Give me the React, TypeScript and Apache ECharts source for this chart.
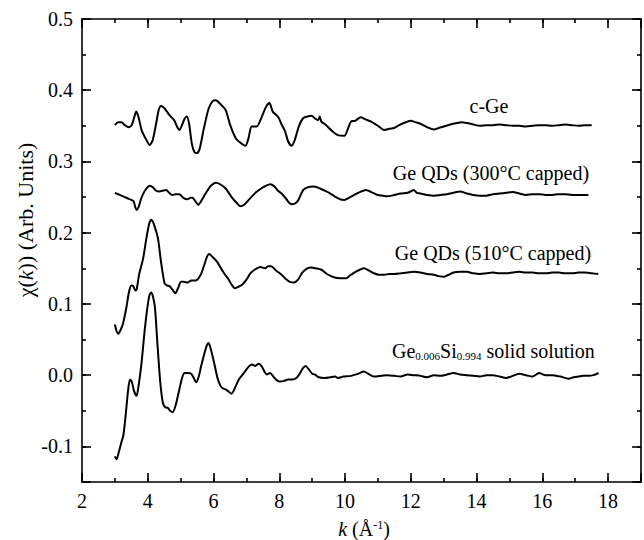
import React, { useEffect, useRef } from "react";
import * as echarts from "echarts";

// k (1/Å) , chi(k) pairs
const cGe: [number, number][] = [
  [3.0, 0.351], [3.1, 0.355], [3.2, 0.355], [3.3, 0.351], [3.42, 0.348], [3.52, 0.352], [3.6, 0.364], [3.65, 0.37],
  [3.72, 0.362], [3.82, 0.343], [3.95, 0.331], [4.06, 0.323], [4.15, 0.33], [4.25, 0.352], [4.33, 0.372], [4.4, 0.378],
  [4.5, 0.375], [4.66, 0.365], [4.8, 0.358], [4.9, 0.348], [4.96, 0.344], [5.05, 0.352], [5.12, 0.36], [5.19, 0.363],
  [5.26, 0.352], [5.34, 0.325], [5.42, 0.313], [5.5, 0.312], [5.58, 0.318], [5.7, 0.345], [5.85, 0.374], [5.98, 0.385],
  [6.07, 0.386], [6.2, 0.381], [6.37, 0.372], [6.5, 0.352], [6.67, 0.333], [6.8, 0.327], [6.97, 0.322], [7.06, 0.332],
  [7.16, 0.349], [7.31, 0.349], [7.47, 0.363], [7.6, 0.377], [7.7, 0.382], [7.8, 0.37], [7.97, 0.362], [8.07, 0.352],
  [8.17, 0.343], [8.27, 0.328], [8.37, 0.322], [8.47, 0.33], [8.6, 0.35], [8.73, 0.361], [8.85, 0.363], [8.98, 0.364],
  [9.1, 0.36], [9.18, 0.358], [9.23, 0.363], [9.28, 0.356], [9.4, 0.352], [9.58, 0.344], [9.78, 0.337], [9.98, 0.336],
  [10.08, 0.345], [10.18, 0.356], [10.3, 0.357], [10.48, 0.362], [10.62, 0.359], [10.79, 0.356], [11.0, 0.35],
  [11.19, 0.344], [11.35, 0.346], [11.49, 0.347], [11.65, 0.351], [11.79, 0.354], [11.99, 0.357], [12.15, 0.355],
  [12.29, 0.353], [12.5, 0.348], [12.7, 0.345], [12.85, 0.347], [13.0, 0.349], [13.2, 0.352], [13.4, 0.354],
  [13.55, 0.355], [13.7, 0.354], [13.9, 0.352], [14.1, 0.35], [14.3, 0.351], [14.5, 0.351], [14.7, 0.352],
  [14.9, 0.351], [15.1, 0.35], [15.3, 0.35], [15.5, 0.349], [15.7, 0.35], [15.9, 0.351], [16.1, 0.351], [16.3, 0.35],
  [16.5, 0.351], [16.7, 0.352], [16.9, 0.351], [17.1, 0.35], [17.3, 0.351], [17.5, 0.351],
];

const qd300: [number, number][] = [
  [3.0, 0.256], [3.1, 0.254], [3.2, 0.252], [3.3, 0.25], [3.4, 0.248], [3.5, 0.246], [3.57, 0.244], [3.62, 0.236],
  [3.66, 0.232], [3.72, 0.236], [3.8, 0.248], [3.9, 0.258], [3.98, 0.263], [4.06, 0.266], [4.15, 0.264], [4.25, 0.259],
  [4.36, 0.258], [4.45, 0.259], [4.56, 0.26], [4.65, 0.256], [4.75, 0.253], [4.85, 0.254], [4.96, 0.254], [5.08, 0.249],
  [5.21, 0.247], [5.3, 0.249], [5.36, 0.249], [5.45, 0.244], [5.54, 0.239], [5.62, 0.244], [5.76, 0.255], [5.9, 0.265],
  [6.0, 0.269], [6.08, 0.27], [6.2, 0.268], [6.37, 0.262], [6.55, 0.25], [6.7, 0.242], [6.82, 0.237], [6.95, 0.24],
  [7.05, 0.245], [7.17, 0.251], [7.3, 0.257], [7.45, 0.262], [7.6, 0.266], [7.72, 0.268], [7.85, 0.265], [7.96, 0.259],
  [8.07, 0.255], [8.2, 0.248], [8.3, 0.242], [8.37, 0.24], [8.48, 0.241], [8.58, 0.246], [8.73, 0.26], [8.88, 0.264],
  [9.03, 0.265], [9.2, 0.263], [9.38, 0.259], [9.52, 0.256], [9.68, 0.251], [9.85, 0.247], [9.98, 0.246],
  [10.12, 0.249], [10.28, 0.253], [10.45, 0.257], [10.63, 0.26], [10.8, 0.257], [10.99, 0.253], [11.15, 0.252],
  [11.29, 0.251], [11.5, 0.253], [11.69, 0.255], [11.9, 0.256], [12.0, 0.258], [12.09, 0.26], [12.18, 0.256],
  [12.29, 0.255], [12.5, 0.253], [12.7, 0.252], [12.9, 0.253], [13.09, 0.254], [13.3, 0.256], [13.49, 0.258],
  [13.7, 0.255], [13.9, 0.253], [14.1, 0.252], [14.3, 0.252], [14.5, 0.254], [14.7, 0.255], [14.9, 0.256],
  [15.1, 0.257], [15.3, 0.255], [15.5, 0.253], [15.7, 0.254], [15.9, 0.254], [16.1, 0.253], [16.3, 0.253],
  [16.5, 0.254], [16.7, 0.254], [16.9, 0.253], [17.1, 0.253], [17.4, 0.253],
];

const qd510: [number, number][] = [
  [3.0, 0.071], [3.05, 0.062], [3.1, 0.058], [3.17, 0.063], [3.25, 0.073], [3.35, 0.095], [3.43, 0.117],
  [3.5, 0.126], [3.56, 0.125], [3.62, 0.119], [3.66, 0.12], [3.74, 0.142], [3.86, 0.164], [3.95, 0.19],
  [4.04, 0.212], [4.11, 0.218], [4.2, 0.21], [4.31, 0.192], [4.4, 0.16], [4.51, 0.129], [4.58, 0.126],
  [4.66, 0.125], [4.75, 0.12], [4.84, 0.115], [4.92, 0.122], [5.01, 0.131], [5.1, 0.131], [5.21, 0.13],
  [5.32, 0.133], [5.46, 0.133], [5.61, 0.141], [5.72, 0.155], [5.8, 0.166], [5.86, 0.17], [5.95, 0.167],
  [6.11, 0.159], [6.2, 0.152], [6.32, 0.143], [6.45, 0.135], [6.55, 0.127], [6.65, 0.122], [6.75, 0.124],
  [6.87, 0.127], [7.0, 0.134], [7.12, 0.143], [7.25, 0.148], [7.42, 0.152], [7.57, 0.15], [7.66, 0.153],
  [7.75, 0.153], [7.9, 0.147], [8.07, 0.141], [8.2, 0.135], [8.32, 0.131], [8.45, 0.13], [8.57, 0.134],
  [8.7, 0.144], [8.85, 0.15], [8.98, 0.151], [9.1, 0.15], [9.28, 0.148], [9.45, 0.142], [9.68, 0.137],
  [9.85, 0.136], [10.03, 0.136], [10.15, 0.14], [10.28, 0.144], [10.45, 0.148], [10.58, 0.15], [10.72, 0.147],
  [10.88, 0.143], [11.03, 0.141], [11.19, 0.141], [11.35, 0.142], [11.49, 0.142], [11.7, 0.143], [11.89, 0.144],
  [12.1, 0.145], [12.29, 0.144], [12.5, 0.142], [12.7, 0.141], [12.85, 0.139], [13.0, 0.138], [13.15, 0.141],
  [13.3, 0.144], [13.5, 0.145], [13.7, 0.145], [13.9, 0.143], [14.1, 0.142], [14.3, 0.143], [14.5, 0.144],
  [14.7, 0.143], [14.9, 0.143], [15.1, 0.144], [15.3, 0.145], [15.5, 0.144], [15.7, 0.144], [15.9, 0.143],
  [16.1, 0.143], [16.3, 0.144], [16.5, 0.144], [16.7, 0.143], [16.9, 0.143], [17.1, 0.144], [17.3, 0.144],
  [17.5, 0.143], [17.7, 0.142],
];

const geSi: [number, number][] = [
  [3.0, -0.114], [3.05, -0.118], [3.12, -0.108], [3.2, -0.094], [3.26, -0.084], [3.33, -0.055], [3.4, -0.022],
  [3.46, -0.006], [3.52, -0.01], [3.58, -0.022], [3.66, -0.029], [3.72, -0.015], [3.81, 0.017], [3.9, 0.06],
  [3.98, 0.092], [4.05, 0.112], [4.1, 0.116], [4.16, 0.11], [4.22, 0.094], [4.3, 0.04], [4.38, -0.01],
  [4.46, -0.039], [4.53, -0.045], [4.61, -0.046], [4.68, -0.05], [4.76, -0.052], [4.85, -0.042], [4.96, -0.02],
  [5.05, -0.003], [5.12, 0.003], [5.22, 0.003], [5.32, 0.002], [5.4, -0.004], [5.47, -0.01], [5.55, -0.002],
  [5.62, 0.012], [5.72, 0.03], [5.8, 0.042], [5.85, 0.045], [5.92, 0.036], [6.02, 0.017], [6.12, -0.004],
  [6.2, -0.014], [6.27, -0.018], [6.4, -0.021], [6.55, -0.026], [6.65, -0.018], [6.77, -0.006], [6.87, 0.0],
  [6.97, 0.006], [7.07, 0.012], [7.17, 0.015], [7.27, 0.013], [7.37, 0.016], [7.47, 0.012], [7.56, 0.004],
  [7.62, 0.001], [7.72, 0.003], [7.82, -0.002], [7.92, -0.007], [8.02, -0.009], [8.15, -0.008], [8.27, -0.006],
  [8.4, -0.006], [8.52, -0.004], [8.62, 0.002], [8.72, 0.01], [8.8, 0.013], [8.9, 0.008], [9.0, 0.002],
  [9.08, 0.001], [9.2, -0.003], [9.38, -0.004], [9.55, -0.003], [9.7, -0.002], [9.78, -0.004], [9.95, -0.002],
  [10.18, -0.001], [10.4, 0.002], [10.58, 0.005], [10.7, 0.002], [10.88, -0.002], [11.1, -0.001], [11.29, 0.0],
  [11.5, -0.001], [11.69, -0.002], [11.9, 0.001], [12.09, 0.0], [12.3, -0.001], [12.49, -0.003], [12.7, 0.0],
  [12.9, -0.001], [13.1, 0.001], [13.3, 0.003], [13.5, 0.001], [13.7, 0.0], [13.9, -0.001], [14.1, -0.002],
  [14.3, 0.0], [14.5, 0.0], [14.7, -0.002], [14.9, -0.004], [15.1, -0.001], [15.3, 0.002], [15.5, 0.0],
  [15.7, -0.002], [15.9, 0.003], [16.1, 0.0], [16.3, 0.0], [16.55, -0.002], [16.8, -0.005], [16.95, -0.003],
  [17.1, -0.002], [17.25, -0.001], [17.41, -0.001], [17.55, 0.0], [17.71, 0.003],
];

const seriesList = [
  { name: "c-Ge", data: cGe },
  { name: "Ge QDs (300°C capped)", data: qd300 },
  { name: "Ge QDs (510°C capped)", data: qd510 },
  { name: "Ge0.006Si0.994 solid solution", data: geSi },
];

const X_MIN = 2;
const X_MAX = 19;
const Y_MIN = -0.15;
const Y_MAX = 0.5;

const FONT = "Liberation Serif";
const BLACK = "#000";

export default function App() {
  const ref = useRef<HTMLDivElement>(null);

  useEffect(() => {
    if (!ref.current) return;
    const chart = echarts.init(ref.current, undefined, { renderer: "svg" });

    const lineStyle = { color: BLACK, width: 1.6 };
    const baseX = (position: "top" | "bottom", interval: number, tickLen: number, showLine: boolean, showLabel: boolean) => ({
      type: "value",
      position,
      min: X_MIN,
      max: X_MAX,
      interval,
      axisLine: { show: showLine, onZero: false, lineStyle },
      axisTick: { show: true, inside: true, length: tickLen, lineStyle },
      axisLabel: {
        show: showLabel,
        color: BLACK,
        fontFamily: FONT,
        fontSize: 20,
        margin: 9,
        formatter: (v: number) => (Math.abs(v % 2) < 1e-9 ? String(v) : ""),
      },
      splitLine: { show: false },
    });
    const baseY = (position: "left" | "right", minor: boolean, showLine: boolean, showLabel: boolean) => ({
      type: "value",
      position,
      min: Y_MIN,
      max: Y_MAX,
      ...(minor ? { interval: 0.05 } : { minInterval: 0.1, maxInterval: 0.1 }),
      axisLine: { show: showLine, onZero: false, lineStyle },
      axisTick: { show: true, inside: true, length: minor ? 4 : 9, lineStyle },
      axisLabel: {
        show: showLabel,
        color: BLACK,
        fontFamily: FONT,
        fontSize: 20,
        margin: 9,
        formatter: (v: number) => {
          const t = Math.round(v * 10);
          return Math.abs(t - v * 10) < 1e-6 ? (t / 10).toFixed(1) : "";
        },
      },
      splitLine: { show: false },
    });

    const textStyle = { fontFamily: FONT, fontSize: 20, fill: BLACK };

    chart.setOption({
      animation: false,
      backgroundColor: "#fff",
      grid: { left: 82, right: -2.5, top: 19, bottom: 58, containLabel: false },
      xAxis: [
        baseX("bottom", 2, 9, true, true),
        baseX("bottom", 1, 4, false, false),
        baseX("top", 2, 9, true, false),
        baseX("top", 1, 4, false, false),
      ],
      yAxis: [
        baseY("left", false, true, true),
        baseY("left", true, false, false),
        baseY("right", false, true, false),
        baseY("right", true, false, false),
      ],
      series: seriesList.map((s) => ({
        name: s.name,
        type: "line",
        xAxisIndex: 0,
        yAxisIndex: 0,
        data: s.data,
        showSymbol: false,
        smooth: 0.25,
        lineStyle: { color: BLACK, width: 2 },
      })),
      graphic: [
        {
          type: "text",
          x: 489,
          y: 106,
          style: { ...textStyle, text: "c-Ge", align: "center", verticalAlign: "middle" },
        },
        {
          type: "text",
          x: 491,
          y: 173,
          style: { ...textStyle, text: "Ge QDs (300°C capped)", align: "center", verticalAlign: "middle" },
        },
        {
          type: "text",
          x: 493,
          y: 253,
          style: { ...textStyle, text: "Ge QDs (510°C capped)", align: "center", verticalAlign: "middle" },
        },
        {
          type: "text",
          x: 392,
          y: 351,
          style: {
            text: "{a|Ge}{s|0.006}{a|Si}{s|0.994}{a| solid solution}",
            align: "left",
            verticalAlign: "middle",
            rich: {
              a: { fontFamily: FONT, fontSize: 20, lineHeight: 20, color: BLACK },
              s: { fontFamily: FONT, fontSize: 11, lineHeight: 1, verticalAlign: "bottom", color: BLACK },
            },
          },
        },
        {
          type: "text",
          x: 25,
          y: 220,
          rotation: Math.PI / 2,
          style: {
            text: "{n|χ(}{i|k}{n|)) (Arb. Units)}",
            align: "center",
            verticalAlign: "middle",
            rich: {
              n: { fontFamily: FONT, fontSize: 22, lineHeight: 22, color: BLACK },
              i: { fontFamily: FONT, fontSize: 22, lineHeight: 22, fontStyle: "italic", color: BLACK },
            },
          },
        },
        {
          type: "text",
          x: 364,
          y: 529,
          style: {
            text: "{i|k}{n| (Å}{p|-1}{n|)}",
            align: "center",
            verticalAlign: "middle",
            rich: {
              n: { fontFamily: FONT, fontSize: 20, lineHeight: 20, color: BLACK },
              i: { fontFamily: FONT, fontSize: 20, lineHeight: 20, fontStyle: "italic", color: BLACK },
              p: { fontFamily: FONT, fontSize: 12, lineHeight: 1, verticalAlign: "top", color: BLACK },
            },
          },
        },
      ],
    });

    return () => chart.dispose();
  }, []);

  return (
    <div
      ref={ref}
      style={{ position: "fixed", left: 0, top: 0, width: 644, height: 540, background: "#fff" }}
    />
  );
}
